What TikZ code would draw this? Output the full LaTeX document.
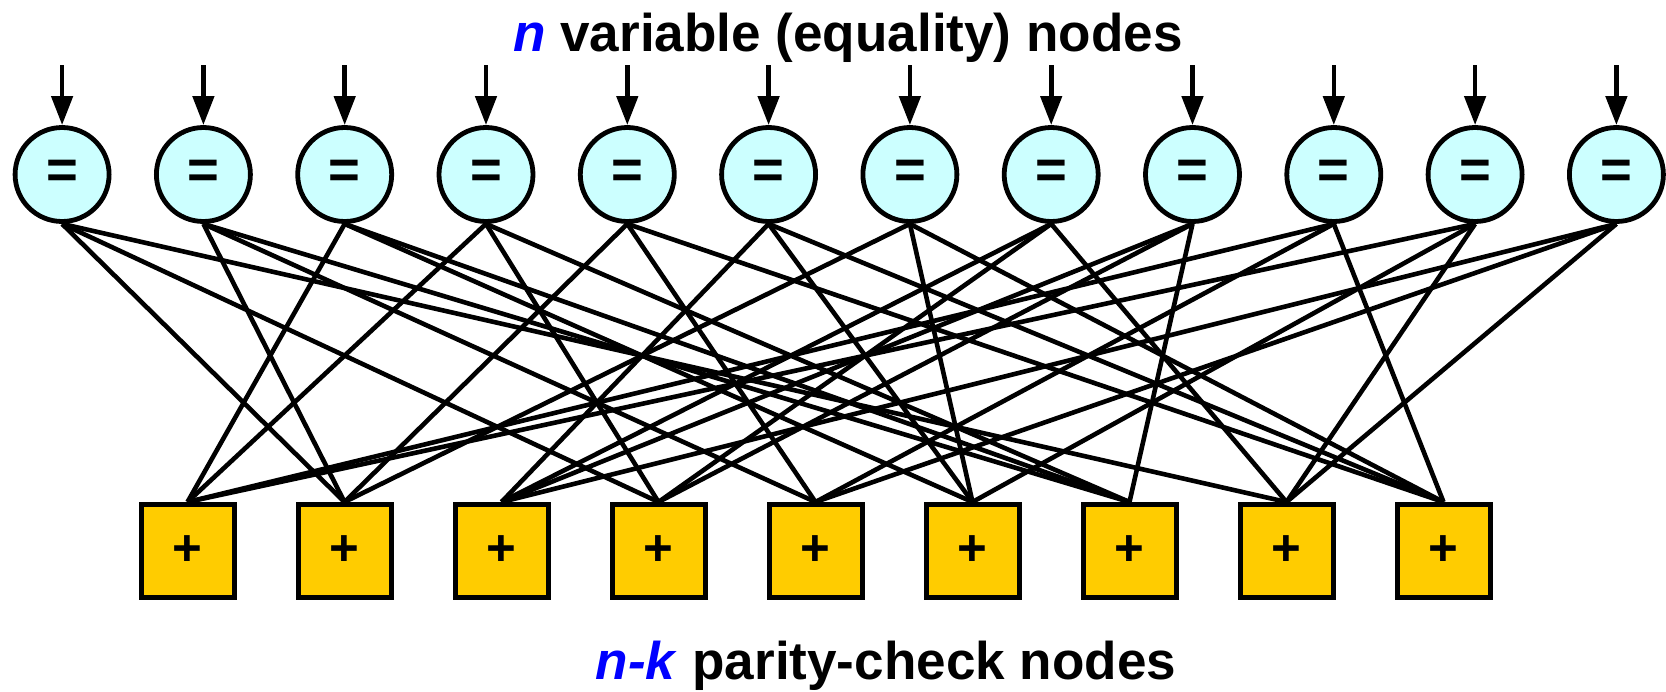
\documentclass[tikz,border=0pt]{standalone}
\usepackage{fontspec}
\setmainfont{Liberation Sans}
\usetikzlibrary{arrows.meta}
\pgfdeclarelayer{bg}
\pgfsetlayers{bg,main}
\definecolor{varfill}{HTML}{CCFFFF}
\definecolor{chkfill}{HTML}{FFCC00}
\definecolor{nblue}{HTML}{0000FF}
\begin{document}
\begin{tikzpicture}[x=0.1mm,y=-0.1mm,
  varnode/.style={circle,draw,line width=0.48mm,fill=varfill,minimum size=9.4mm,inner sep=0pt,font=\fontsize{15.5}{18}\selectfont\bfseries},
  chknode/.style={rectangle,draw,line width=0.5mm,fill=chkfill,minimum size=9.3mm,inner sep=0pt,font=\fontsize{14.5}{17}\selectfont\bfseries},
  link/.style={line width=0.46mm},
  inarrow/.style={line width=0.46mm,-{Triangle[length=2.9mm,width=2.1mm]}},
  titletext/.style={font=\fontsize{15.1}{18}\selectfont\bfseries,anchor=base,inner sep=0pt}
]
\useasboundingbox (0,0) rectangle (1666,692);
\foreach \i in {1,...,12} {
  \node[varnode] (v\i) at ({62.1+141.3*(\i-1)},174.5) {=};
  \coordinate (a\i) at ({62.1+141.3*(\i-1)},65);
  \draw[inarrow] (a\i) -- (v\i.north);
}
\foreach \j in {1,...,9} {
  \node[chknode] (c\j) at ({187.5+157*(\j-1)},551) {+};
}
\begin{pgfonlayer}{bg}
\foreach \c/\vs in {1/{3,4,10,11},2/{1,2,5,7},3/{6,8,9,12},4/{1,4,8,9},5/{2,5,10,12},6/{3,6,7,11},7/{2,3,4,9},8/{1,8,11,12},9/{5,6,7,10}} {
  \foreach \v in \vs {
    \draw[link] (v\v.south) -- (c\c.north);
  }
}
\end{pgfonlayer}
\node[titletext] (top) at (848,51.5) {\textcolor{nblue}{\textit{n}} variable (equality) nodes};
\node[titletext] (bot) at (886,679) {\textcolor{nblue}{\textit{n-k}} parity-check nodes};
\end{tikzpicture}
\end{document}
